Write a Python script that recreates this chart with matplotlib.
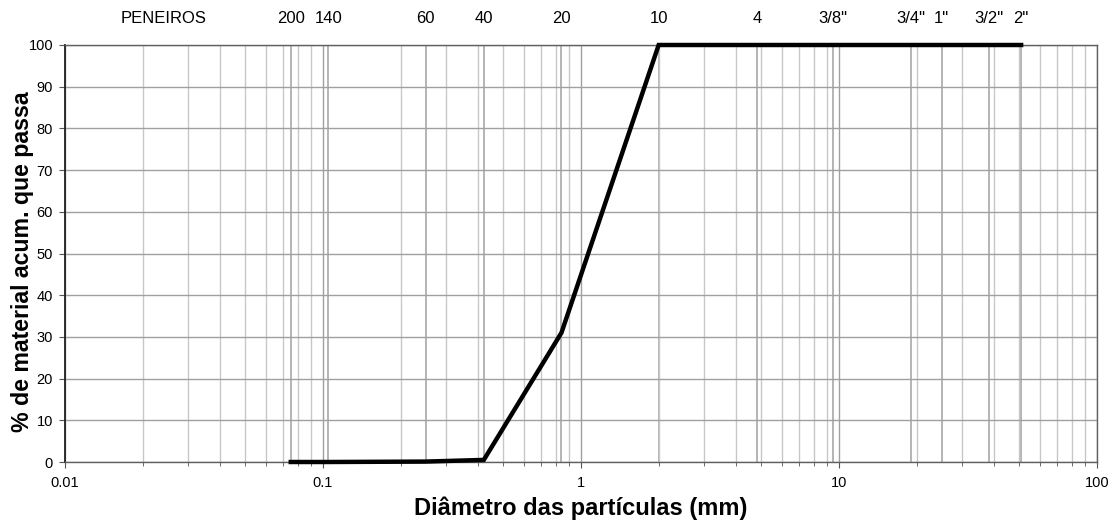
import numpy as np
import matplotlib
matplotlib.use("Agg")
import matplotlib.pyplot as plt
import matplotlib.transforms as mtransforms
from matplotlib.ticker import LogLocator, FixedLocator, NullFormatter

plt.rcParams['font.family'] = ['Liberation Sans', 'DejaVu Sans']

# Data
diameters = [0.075, 0.105, 0.25, 0.42, 0.84, 2.0, 4.8, 9.5, 19.0, 25.0, 38.0, 50.8]
passing = [0.0, 0.0, 0.1, 0.5, 31.0, 100.0, 100.0, 100.0, 100.0, 100.0, 100.0, 100.0]
sieve_labels = ["200", "140", "60", "40", "20", "10", "4", '3/8"', '3/4"', '1"', '3/2"', '2"']
sieve_sizes = [0.075, 0.105, 0.25, 0.42, 0.84, 2.0, 4.8, 9.5, 19.0, 25.0, 38.0, 50.8]
y_ticks = list(range(0, 101, 10))

fig = plt.figure(figsize=(11.15, 5.23), dpi=100)
ax = fig.add_axes([65/1115, 1-462/523, (1097-65)/1115, (462-45)/523])

ax.set_xscale('log')
ax.set_xlim(0.01, 100)
ax.set_ylim(0, 100)

# minor log grid
ax.xaxis.set_minor_locator(LogLocator(base=10, subs=np.arange(2, 10)))
ax.xaxis.set_minor_formatter(NullFormatter())
ax.grid(True, which='minor', axis='x', color='#c8c8c8', linewidth=1.0)
ax.grid(True, which='major', axis='x', color='#a0a0a0', linewidth=1.0)
ax.grid(True, which='major', axis='y', color='#a0a0a0', linewidth=1.0)

# sieve lines
for s in sieve_sizes:
    ax.axvline(s, color='#a8a8a8', linewidth=1.2, zorder=1)

ax.set_yticks(y_ticks)
ax.set_xticks([0.01, 0.1, 1, 10, 100])
ax.set_xticklabels(["0.01", "0.1", "1", "10", "100"])
ax.tick_params(axis='both', which='major', labelsize=10.5, length=4.3, color='#555555')
ax.tick_params(axis='x', which='minor', length=3, color='#555555')
ax.tick_params(axis='x', which='major', pad=6)
ax.tick_params(axis='y', which='major', pad=4.3)

for sp in ax.spines.values():
    sp.set_color('#606060')
    sp.set_linewidth(1.0)
ax.spines['left'].set_color('#202020')
ax.spines['left'].set_linewidth(1.3)

ax.plot(diameters, passing, color='black', linewidth=3.2, zorder=5, solid_joinstyle='miter', clip_on=False)

# top sieve labels
sec = ax.secondary_xaxis('top')
sec.set_xticks(sieve_sizes)
sec.set_xticklabels(sieve_labels)
sec.xaxis.set_minor_locator(FixedLocator([]))
sec.tick_params(axis='x', which='both', length=0, labelsize=12, pad=14)
sec.spines['top'].set_visible(False)
off = mtransforms.ScaledTranslation(0, 14/72, fig.dpi_scale_trans)
ax.text(0.024, 1.0, "PENEIROS", transform=ax.get_xaxis_transform() + off,
        ha='center', va='bottom', fontsize=12)

ax.set_xlabel("Diâmetro das partículas (mm)", fontsize=17, fontweight='bold')
ax.xaxis.set_label_coords(0.5, -(508 - 462) / 417, transform=ax.transAxes)
ax.xaxis.label.set_va('center')
ax.set_ylabel("% de material acum. que passa", fontsize=16.7, fontweight='bold')
ax.yaxis.set_label_coords((23 - 65) / 1032, (462 - 262) / 417, transform=ax.transAxes)
ax.yaxis.label.set_va('center')

fig.savefig("out.png", dpi=100, facecolor='white')
